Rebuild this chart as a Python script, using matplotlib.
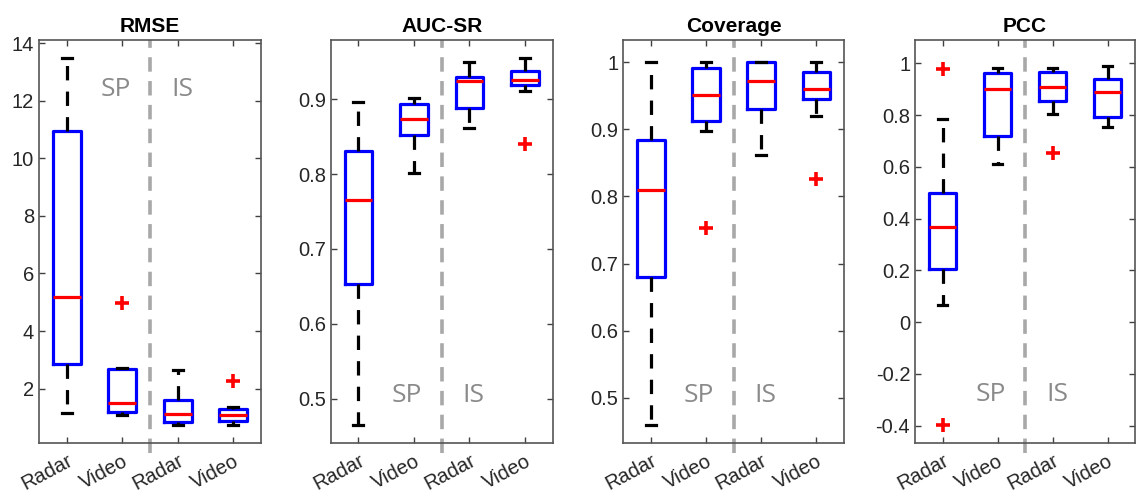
import matplotlib
matplotlib.use("Agg")
import matplotlib.pyplot as plt
from matplotlib.ticker import FuncFormatter, FixedLocator

plt.rcParams['font.family'] = ['Liberation Sans', 'DejaVu Sans']
plt.rcParams['axes.unicode_minus'] = False

categories = ["Radar", "Video", "Radar", "Video"]
titles = ["RMSE", "AUC-SR", "Coverage", "PCC"]

# Box statistics per metric (order: Radar SP, Video SP, Radar IS, Video IS)
rmse_whislo = [1.15, 1.10, 0.75, 0.75]
rmse_q1     = [2.85, 1.19, 0.84, 0.86]
rmse_med    = [5.17, 1.50, 1.13, 1.10]
rmse_q3     = [10.95, 2.69, 1.59, 1.29]
rmse_whishi = [13.48, 2.72, 2.63, 1.35]
rmse_fliers = [[], [4.97], [], [2.25]]

auc_whislo = [0.465, 0.802, 0.861, 0.911]
auc_q1     = [0.653, 0.852, 0.888, 0.919]
auc_med    = [0.765, 0.873, 0.924, 0.925]
auc_q3     = [0.831, 0.893, 0.930, 0.938]
auc_whishi = [0.896, 0.902, 0.949, 0.955]
auc_fliers = [[], [], [], [0.840]]

cov_whislo = [0.459, 0.898, 0.862, 0.920]
cov_q1     = [0.680, 0.912, 0.931, 0.946]
cov_med    = [0.810, 0.952, 0.972, 0.960]
cov_q3     = [0.884, 0.992, 1.000, 0.985]
cov_whishi = [1.000, 1.000, 1.000, 1.000]
cov_fliers = [[], [0.753], [], [0.826]]

pcc_whislo = [0.065, 0.610, 0.804, 0.755]
pcc_q1     = [0.204, 0.719, 0.854, 0.794]
pcc_med    = [0.369, 0.900, 0.910, 0.888]
pcc_q3     = [0.498, 0.964, 0.968, 0.939]
pcc_whishi = [0.785, 0.983, 0.983, 0.990]
pcc_fliers = [[0.977, -0.397], [], [0.652], []]

metrics = [
    (rmse_whislo, rmse_q1, rmse_med, rmse_q3, rmse_whishi, rmse_fliers),
    (auc_whislo, auc_q1, auc_med, auc_q3, auc_whishi, auc_fliers),
    (cov_whislo, cov_q1, cov_med, cov_q3, cov_whishi, cov_fliers),
    (pcc_whislo, pcc_q1, pcc_med, pcc_q3, pcc_whishi, pcc_fliers),
]

ylims = [(0.11, 14.11), (0.441, 0.979), (0.4325, 1.0333), (-0.467, 1.09)]
yticks = [
    [2, 4, 6, 8, 10, 12, 14],
    [0.5, 0.6, 0.7, 0.8, 0.9],
    [0.5, 0.6, 0.7, 0.8, 0.9, 1.0],
    [-0.4, -0.2, 0, 0.2, 0.4, 0.6, 0.8, 1.0],
]
label_y = [12.38, 0.505, 0.504, -0.281]

fig = plt.figure(figsize=(11.41, 4.93), dpi=100)
W, H = 1141, 493
lefts = [39, 330.7, 623.3, 915]
widths = [222, 222, 220.7, 220]
top_px, bot_px = 40, 443

lw = 2.3
for i in range(4):
    ax = fig.add_axes([lefts[i] / W, (H - bot_px) / H, widths[i] / W, (bot_px - top_px) / H])
    wl, q1, md, q3, wh, fl = metrics[i]
    stats = []
    for j in range(4):
        stats.append(dict(med=md[j], q1=q1[j], q3=q3[j], whislo=wl[j], whishi=wh[j], fliers=fl[j]))
    ax.bxp(stats, positions=[1, 2, 3, 4], widths=0.5, capwidths=0.18,
           boxprops=dict(color='#0000ff', lw=lw),
           medianprops=dict(color='#ff0000', lw=lw),
           whiskerprops=dict(color='black', lw=lw, ls=(0, (4.5, 3.5))),
           capprops=dict(color='black', lw=lw),
           flierprops=dict(marker='+', markeredgecolor='#ff0000', markersize=10, markeredgewidth=2.6),
           manage_ticks=False)
    ax.set_xlim(0.5, 4.5)
    ax.set_ylim(*ylims[i])
    ax.axvline(2.5, ymin=-0.026, ymax=1.0, clip_on=False, color='#a8a8a8', lw=2.6,
               ls=(0, (4, 2.6)), zorder=0)
    ax.text(2.15, label_y[i], "SP", ha='right', va='center', fontsize=19,
            color='#8a8a8a', family=['Open Sans', 'DejaVu Sans'])
    ax.text(2.88, label_y[i], "IS", ha='left', va='center', fontsize=19,
            color='#8a8a8a', family=['Open Sans', 'DejaVu Sans'])
    ax.xaxis.set_major_locator(FixedLocator([1, 2, 3, 4]))
    ax.set_xticklabels(categories, rotation=28, ha='right', rotation_mode='anchor')
    ax.yaxis.set_major_locator(FixedLocator(yticks[i]))
    ax.yaxis.set_major_formatter(FuncFormatter(lambda v, p: '%g' % round(v, 6)))
    ax.tick_params(direction='in', length=4.5, width=1.0, top=True, right=True,
                   labelsize=14.5, colors='#404040', labelcolor='#262626')
    ax.tick_params(axis='x', pad=6)
    for s in ax.spines.values():
        s.set_color('#555555')
        s.set_linewidth(1.2)
    ax.set_title(titles[i], fontsize=15, fontweight='bold', pad=6)

fig.savefig("out.png", dpi=100)
